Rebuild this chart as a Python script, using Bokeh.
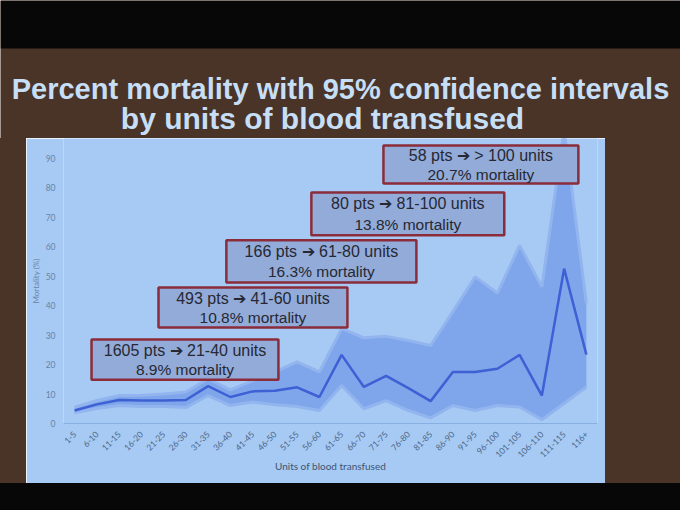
from bokeh.plotting import figure
from bokeh.models import FactorRange, Range1d, FixedTicker, ColumnDataSource, Div
from bokeh.layouts import column, row
from bokeh.core.properties import value
from bokeh.embed import file_html
from bokeh.resources import INLINE

# ---------------- data ----------------
categories = ["1-5", "6-10", "11-15", "16-20", "21-25", "26-30", "31-35", "36-40",
              "41-45", "46-50", "51-55", "56-60", "61-65", "66-70", "71-75", "76-80",
              "81-85", "86-90", "91-95", "96-100", "101-105", "106-110", "111-115", "116+"]
mortality = [4.4, 6.5, 8.0, 7.8, 7.8, 8.0, 12.7, 9.0, 10.9, 11.1, 12.3, 9.0,
             23.3, 12.4, 16.2, 12.0, 7.6, 17.5, 17.5, 18.6, 23.3, 9.5, 52.6, 23.4]
ci_upper = [5.5, 7.8, 9.5, 9.6, 10.0, 10.7, 15.2, 11.4, 14.5, 17.5, 20.9, 17.5,
            32.2, 29.1, 29.6, 28.2, 26.5, 38.0, 49.8, 44.3, 60.5, 46.4, 100.0, 40.8]
ci_lower = [3.6, 5.1, 6.1, 5.8, 5.8, 5.4, 9.5, 6.1, 7.3, 6.4, 5.8, 4.4,
            12.9, 5.0, 7.8, 4.4, 1.9, 6.1, 4.4, 6.1, 5.6, 1.3, 6.8, 12.4]
y_ticks = [0, 10, 20, 30, 40, 50, 60, 70, 80, 90]

title_lines = ["Percent mortality with 95% confidence intervals",
               "by units of blood transfused"]
ann_line1 = ["1605 pts \u2794 21-40 units", "493 pts \u2794 41-60 units",
             "166 pts \u2794 61-80 units", "80 pts \u2794 81-100 units",
             "58 pts \u2794 > 100 units"]
ann_line2 = ["8.9% mortality", "10.8% mortality", "16.3% mortality",
             "13.8% mortality", "20.7% mortality"]

# annotation box layout (x in category-slot units, y in % units)
box_left = [1.26, 4.27, 7.32, 11.14, 14.38]
box_right = [9.66, 12.76, 15.86, 19.81, 23.14]
box_top = [28.5, 46.2, 62.2, 78.5, 94.4]
box_bottom = [14.9, 32.6, 47.9, 63.9, 81.5]

# ---------------- style ----------------
BROWN = "#4a3428"
BLACK = "#080707"
PANEL = "#a6caf3"
BAND = "#7fa5ea"
BAND_EDGE = "#93b5ef"
LINE = "#3d60d4"

W = 680
H_TITLE = 138
H_CHART = 345
H_BOTTOM = 510 - H_TITLE - H_CHART
LEFT_PAD = 26
CHART_W = 579

# ---------------- title strip ----------------
tf = figure(width=W, height=H_TITLE, x_range=Range1d(0, W), y_range=Range1d(0, H_TITLE),
            toolbar_location=None, output_backend="svg", min_border=0,
            x_axis_location=None, y_axis_location=None,
            background_fill_color=BROWN, border_fill_color=BROWN, outline_line_color=None)
tf.grid.visible = False
tf.quad(left=0, right=W, bottom=90, top=H_TITLE, fill_color=BLACK, line_color=None)
tf.text(x=[340], y=[50], text=title_lines[:1],
        text_font=value("Liberation Sans"), text_font_style="bold",
        text_font_size="29px", text_color="#c6def6",
        text_align="center", text_baseline="middle")
tf.text(x=[322], y=[20], text=title_lines[1:],
        text_font=value("Liberation Sans"), text_font_style="bold",
        text_font_size="30px", text_color="#c6def6",
        text_align="center", text_baseline="middle")

# ---------------- chart ----------------
src = ColumnDataSource(dict(cat=categories, m=mortality, lo=ci_lower, hi=ci_upper))

p = figure(x_range=FactorRange(*categories, range_padding=0), y_range=Range1d(0, 96.8),
           width=CHART_W, height=H_CHART, toolbar_location=None, output_backend="svg",
           min_border_left=37, min_border_right=8, min_border_top=0, min_border_bottom=60,
           background_fill_color=PANEL, border_fill_color=PANEL, outline_line_color=None)
p.grid.visible = False

p.varea(x="cat", y1="lo", y2="hi", source=src, fill_color=BAND, fill_alpha=1.0)
p.line(x="cat", y="hi", source=src, line_color=BAND_EDGE, line_width=3)
p.line(x="cat", y="lo", source=src, line_color=BAND_EDGE, line_width=3)
p.line(x="cat", y="m", source=src, line_color=LINE, line_width=2.5)

p.quad(left=box_left, right=box_right, top=box_top, bottom=box_bottom,
       fill_color="#93abd8", line_color="#8b2c3a", line_width=2.5)
cx = [(a + b) / 2 for a, b in zip(box_left, box_right)]
y1 = [t - 0.27 * (t - b) for t, b in zip(box_top, box_bottom)]
y2 = [t - 0.75 * (t - b) for t, b in zip(box_top, box_bottom)]
p.text(x=cx, y=y1, text=ann_line1, text_font=value("Liberation Sans"),
       text_font_size="16px", text_color="#262833",
       text_align="center", text_baseline="middle")
p.text(x=cx, y=y2, text=ann_line2, text_font=value("Liberation Sans"),
       text_font_size="15.5px", text_color="#262833",
       text_align="center", text_baseline="middle")

p.yaxis.ticker = FixedTicker(ticks=y_ticks)
p.yaxis.axis_line_color = None
p.yaxis.major_tick_line_color = None
p.yaxis.minor_tick_line_color = None
p.yaxis.major_label_text_font = "Lato"
p.yaxis.major_label_text_font_size = "8.5px"
p.yaxis.major_label_text_color = "#6684ab"
p.yaxis.major_label_standoff = 2
p.yaxis.axis_label = "Mortality (%)"
p.yaxis.axis_label_text_font = "Lato"
p.yaxis.axis_label_text_font_size = "8px"
p.yaxis.axis_label_text_font_style = "normal"
p.yaxis.axis_label_text_color = "#6684ab"
p.yaxis.axis_label_standoff = 2

p.xaxis.axis_line_color = "#88b0e2"
p.xaxis.axis_line_width = 1
p.xaxis.major_tick_line_color = None
p.xaxis.minor_tick_line_color = None
p.xaxis.major_label_orientation = 0.785
p.xaxis.major_label_text_font = "Lato"
p.xaxis.major_label_text_font_size = "8.5px"
p.xaxis.major_label_text_color = "#4d6688"
p.xaxis.major_label_standoff = 3
p.xaxis.axis_label = "Units of blood transfused"
p.xaxis.axis_label_text_font = "Lato"
p.xaxis.axis_label_text_font_size = "10px"
p.xaxis.axis_label_text_font_style = "normal"
p.xaxis.axis_label_text_color = "#3e5470"
p.xaxis.axis_label_standoff = -4

left_pad = Div(text="", width=LEFT_PAD, height=H_CHART, margin=0,
               styles={"background-color": BROWN})
right_pad = Div(text="", width=W - LEFT_PAD - CHART_W, height=H_CHART, margin=0,
                styles={"background-color": BROWN})
bottom_pad = Div(text="", width=W, height=H_BOTTOM, margin=0,
                 styles={"background-color": BLACK})

layout = column(tf, row(left_pad, p, right_pad), bottom_pad)

open("out.html", "w").write(file_html(layout, INLINE))
